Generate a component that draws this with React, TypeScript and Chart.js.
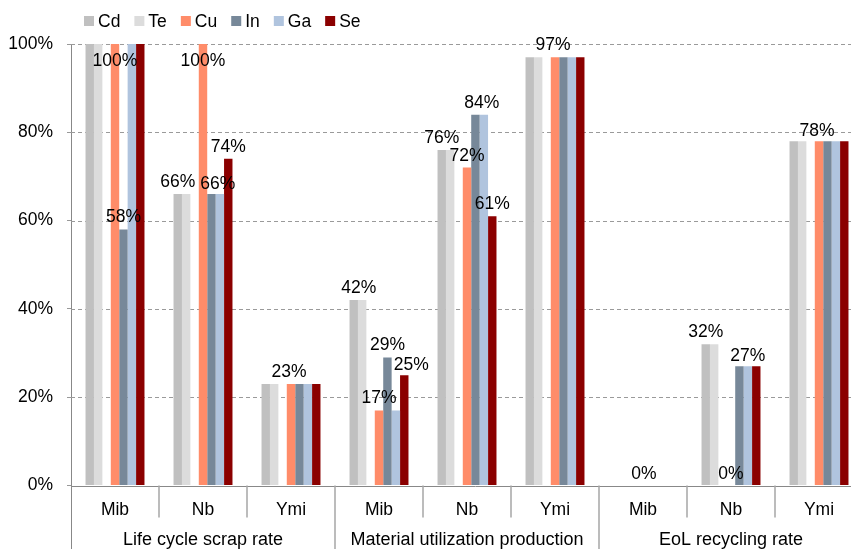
import { useEffect, useRef } from "react";
import { Chart, registerables } from "chart.js";

Chart.register(...registerables);

// Sub-categories along the x axis, grouped by indicator
const subCategories = ["Mib", "Nb", "Ymi", "Mib", "Nb", "Ymi", "Mib", "Nb", "Ymi"];
const groupLabels = ["Life cycle scrap rate", "Material utilization production", "EoL recycling rate"];
const groupSize = 3;

// Series (percent values)
const seriesNames = ["Cd", "Te", "Cu", "In", "Ga", "Se"];
const seriesColors = ["#C0C0C0", "#DCDCDC", "#FF8C69", "#778899", "#B0C4DE", "#8B0000"];
const cdValues = [100, 66, 23, 42, 76, 97, 0, 32, 78];
const teValues = [100, 66, 23, 42, 76, 97, 0, 32, 78];
const cuValues = [100, 100, 23, 17, 72, 97, 0, 0, 78];
const inValues = [58, 66, 23, 29, 84, 97, 0, 27, 78];
const gaValues = [100, 66, 23, 17, 84, 97, 0, 27, 78];
const seValues = [100, 74, 23, 25, 61, 97, 0, 27, 78];
const seriesValues = [cdValues, teValues, cuValues, inValues, gaValues, seValues];

const yTickValues = [0, 20, 40, 60, 80, 100];

// Which bars carry a value label: [series, category index, dx, dy]
const valueLabels: [string, number, number, number][] = [
  ["Cu", 0, 0, 29],
  ["In", 0, 0, 0],
  ["Cd", 1, 0, 0],
  ["Cu", 1, 0, 29],
  ["Ga", 1, -2, 2],
  ["Se", 1, 0, 0],
  ["Cu", 2, -2, 0],
  ["Cd", 3, 5, 0],
  ["Cu", 3, 0, 0],
  ["In", 3, 0, 0],
  ["Se", 3, 7, 2],
  ["Cd", 4, 0, 0],
  ["Cu", 4, 0, 0],
  ["Ga", 4, -2, 0],
  ["Se", 4, 0, 0],
  ["Cu", 5, -2, 0],
  ["Cu", 6, 1, 0],
  ["Cd", 7, 0, 0],
  ["Cu", 7, 0, 0],
  ["Ga", 7, 0, 2],
  ["Cu", 8, -2, 2],
];

const FONT = '"Liberation Sans", Arial, sans-serif';
const FONT_SIZE = 17.5;
const GROUP_FONT_SIZE = 18;

export default function App() {
  const canvasRef = useRef<HTMLCanvasElement | null>(null);

  useEffect(() => {
    const canvas = canvasRef.current;
    if (!canvas) return;

    // Cd and Te are followed by an empty slot before the remaining metals
    const datasets: any[] = [];
    seriesNames.forEach((name, i) => {
      datasets.push({
        label: name,
        data: seriesValues[i],
        backgroundColor: seriesColors[i],
        borderWidth: 0,
      });
      if (name === "Te") {
        datasets.push({
          label: "",
          data: subCategories.map(() => null),
          backgroundColor: "rgba(0,0,0,0)",
          borderWidth: 0,
        });
      }
    });

    const decorations = {
      id: "decorations",
      beforeDatasetsDraw(chart: any) {
        const { ctx, chartArea, scales } = chart;
        const y = scales.y;
        ctx.save();
        ctx.strokeStyle = "#9A9A9A";
        ctx.lineWidth = 1;
        ctx.setLineDash([4, 3]);
        yTickValues.forEach((v) => {
          if (v === 0) return;
          const py = Math.round(y.getPixelForValue(v)) + 0.5;
          ctx.beginPath();
          ctx.moveTo(chartArea.left, py);
          ctx.lineTo(chart.width, py);
          ctx.stroke();
        });
        ctx.restore();
      },
      afterDatasetsDraw(chart: any) {
        const { ctx, chartArea, scales } = chart;
        const x = scales.x;
        const bottom = chartArea.bottom;
        ctx.save();

        // baseline
        ctx.strokeStyle = "#888888";
        ctx.lineWidth = 1;
        ctx.beginPath();
        ctx.moveTo(chartArea.left, Math.round(bottom) + 0.5);
        ctx.lineTo(chart.width, Math.round(bottom) + 0.5);
        ctx.stroke();

        // left axis running down through the category rows
        ctx.beginPath();
        ctx.moveTo(Math.round(chartArea.left) + 0.5, bottom);
        ctx.lineTo(Math.round(chartArea.left) + 0.5, chart.height);
        ctx.stroke();

        // category boundaries
        const n = subCategories.length;
        const edge = (i: number) => {
          if (i <= 0) return x.left;
          if (i >= n) return x.right;
          return (x.getPixelForValue(i - 1) + x.getPixelForValue(i)) / 2;
        };
        ctx.strokeStyle = "#A6A6A6";
        ctx.lineWidth = 1.5;
        for (let i = 1; i <= n; i++) {
          const px = Math.round(edge(i));
          const isGroup = i % groupSize === 0;
          ctx.beginPath();
          ctx.moveTo(px, bottom);
          ctx.lineTo(px, isGroup ? chart.height : bottom + 32);
          ctx.stroke();
        }

        // category and group labels
        ctx.fillStyle = "#000";
        ctx.font = `${FONT_SIZE}px ${FONT}`;
        ctx.textAlign = "center";
        ctx.textBaseline = "alphabetic";
        subCategories.forEach((label, i) => {
          ctx.fillText(label, x.getPixelForValue(i), bottom + 29);
        });
        ctx.font = `${GROUP_FONT_SIZE}px ${FONT}`;
        groupLabels.forEach((label, g) => {
          const cx = (edge(g * groupSize) + edge((g + 1) * groupSize)) / 2;
          ctx.fillText(label, cx, bottom + 59);
        });

        // value labels
        ctx.font = `${FONT_SIZE}px ${FONT}`;
        valueLabels.forEach(([series, cat, dx, dy]) => {
          const dsIndex = chart.data.datasets.findIndex((d: any) => d.label === series);
          const el = chart.getDatasetMeta(dsIndex).data[cat];
          const value = chart.data.datasets[dsIndex].data[cat];
          ctx.fillText(`${value}%`, el.x + dx, el.y - 7 + dy);
        });

        // legend
        let lx = 84;
        const ly = 21;
        ctx.textAlign = "left";
        ctx.textBaseline = "middle";
        seriesNames.forEach((name, i) => {
          ctx.fillStyle = seriesColors[i];
          ctx.fillRect(lx, ly - 5, 10, 10);
          ctx.fillStyle = "#000";
          ctx.fillText(name, lx + 14, ly + 1);
          lx += 14 + ctx.measureText(name).width + 14;
        });

        ctx.restore();
      },
    };

    const chart = new Chart(canvas, {
      type: "bar",
      data: { labels: subCategories, datasets },
      options: {
        responsive: false,
        animation: false,
        devicePixelRatio: 1,
        layout: { padding: { top: 44, right: 17, bottom: 63.5, left: 0 } },
        datasets: {
          bar: { categoryPercentage: 0.67, barPercentage: 1 },
        },
        plugins: {
          legend: { display: false },
          tooltip: { enabled: false },
        },
        scales: {
          x: { display: false },
          y: {
            min: 0,
            max: 100,
            afterFit: (s: any) => {
              s.width = 71;
            },
            ticks: {
              stepSize: 20,
              color: "#000",
              padding: 14,
              font: { family: FONT, size: FONT_SIZE },
              callback: (v: any) => `${v}%`,
            },
            grid: {
              display: true,
              drawOnChartArea: false,
              drawTicks: true,
              tickLength: 4,
              color: "#999999",
            },
            border: { display: true, color: "#888888", width: 1 },
          },
        },
      },
      plugins: [decorations],
    });

    return () => chart.destroy();
  }, []);

  return (
    <div
      style={{
        position: "absolute",
        left: 0,
        top: 0,
        width: 851,
        height: 549,
        overflow: "hidden",
        background: "#fff",
      }}
    >
      <canvas ref={canvasRef} width={880} height={549} style={{ width: 880, height: 549, display: "block" }} />
    </div>
  );
}
